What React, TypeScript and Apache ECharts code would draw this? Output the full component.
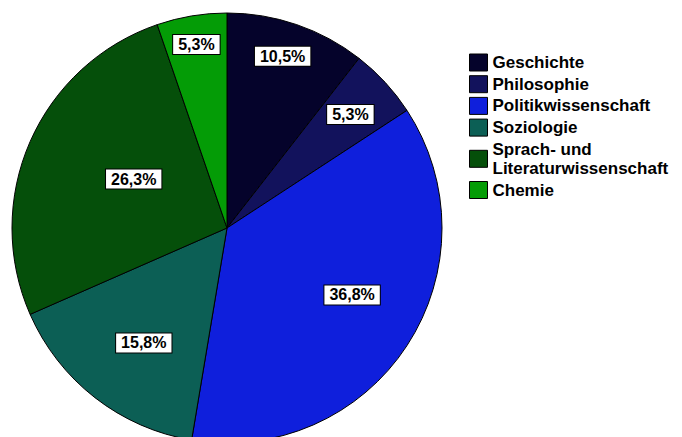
import React, { useEffect, useRef } from "react";
import * as echarts from "echarts";

const categories = [
  "Geschichte",
  "Philosophie",
  "Politikwissenschaft",
  "Soziologie",
  "Sprach- und\nLiteraturwissenschaft",
  "Chemie",
];
const counts = [2, 1, 7, 3, 5, 1];
const colors = ["#05032b", "#12125c", "#0f1fdc", "#0c5f55", "#054f0a", "#049c06"];
// label placement: share of the radius, and small angle shift (degrees) from the slice middle
const labelRadius = [0.84, 0.78, 0.66, 0.66, 0.49, 0.865];
const labelAngleShift = [-1, 0, -5, -2, 4, 0];

export default function App() {
  const ref = useRef<HTMLDivElement>(null);
  useEffect(() => {
    document.body.style.margin = "0";
    const chart = echarts.init(ref.current!, null, { renderer: "svg" });
    const total = counts.reduce((a, b) => a + b, 0);
    const cx = 227;
    const cy = 228;
    const R = 215;
    const mids: number[] = [];
    let acc = 0;
    counts.forEach((c) => {
      mids.push(((acc + c / 2) / total) * 360);
      acc += c;
    });
    chart.setOption({
      animation: false,
      backgroundColor: "#ffffff",
      color: colors,
      legend: {
        orient: "vertical",
        left: 464,
        top: 48,
        icon: "rect",
        itemWidth: 18,
        itemHeight: 17,
        itemGap: 2.7,
        selectedMode: false,
        itemStyle: { borderColor: "#000", borderWidth: 1 },
        textStyle: {
          fontFamily: "Liberation Sans, Arial, sans-serif",
          fontWeight: "bold",
          fontSize: 17,
          lineHeight: 19,
          color: "#000",
        },
        data: categories,
      },
      series: [
        {
          type: "pie",
          center: [cx, cy],
          radius: [0, R],
          startAngle: 90,
          clockwise: true,
          avoidLabelOverlap: false,
          itemStyle: { borderColor: "#000", borderWidth: 1 },
          emphasis: { disabled: true },
          label: {
            show: true,
            position: "inside",
            formatter: (p: any) =>
              ((p.value / total) * 100).toFixed(1).replace(".", ",") + "%",
            fontFamily: "Liberation Sans, Arial, sans-serif",
            fontWeight: "bold",
            fontSize: 16,
            lineHeight: 15,
            color: "#000",
            backgroundColor: "#fff",
            borderColor: "#000",
            borderWidth: 1,
            padding: [2, 5],
          },
          labelLine: { show: false },
          labelLayout: (params: any) => {
            const i = params.dataIndex;
            const a = ((mids[i] + labelAngleShift[i]) * Math.PI) / 180;
            const d = R * labelRadius[i];
            return {
              x: cx + Math.sin(a) * d,
              y: cy - Math.cos(a) * d,
              align: "center",
              verticalAlign: "middle",
            };
          },
          data: categories.map((name, i) => ({ name, value: counts[i] })),
        },
      ],
    });
    return () => chart.dispose();
  }, []);
  return <div ref={ref} style={{ width: 682, height: 437 }} />;
}
